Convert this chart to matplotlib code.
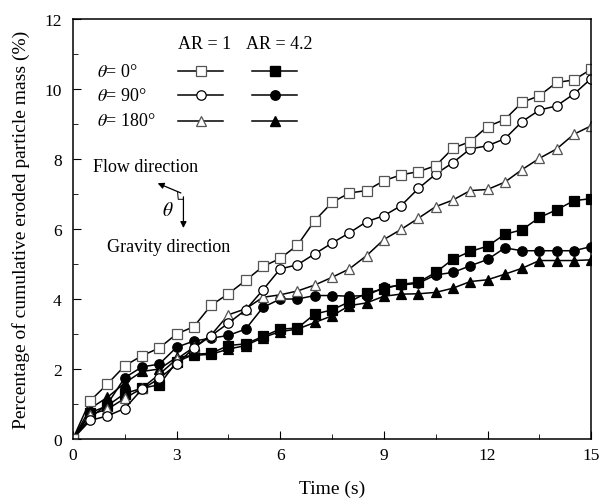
import matplotlib
matplotlib.use("Agg")
import matplotlib.pyplot as plt
from matplotlib.ticker import MultipleLocator
import numpy as np

plt.rcParams['font.family'] = ['Liberation Serif', 'DejaVu Serif']
plt.rcParams['mathtext.fontset'] = 'stix'

# time (s), one value every 0.5 s
t = np.arange(0, 15.01, 0.5)

# AR = 1
sq_ar1 = [0, 1.09, 1.57, 2.09, 2.38, 2.6, 3.0, 3.21, 3.82, 4.15, 4.53, 4.93, 5.16, 5.54, 6.24, 6.76,
          7.03, 7.1, 7.38, 7.55, 7.64, 7.81, 8.31, 8.5, 8.93, 9.13, 9.62, 9.81, 10.19, 10.26, 10.57]
ci_ar1 = [0, 0.53, 0.66, 0.87, 1.42, 1.73, 2.13, 2.6, 2.95, 3.31, 3.69, 4.26, 4.86, 4.98, 5.29, 5.6,
          5.89, 6.21, 6.38, 6.67, 7.16, 7.57, 7.9, 8.29, 8.38, 8.58, 9.07, 9.4, 9.52, 9.86, 10.3]
tr_ar1 = [0, 0.7, 0.85, 1.16, 1.45, 1.85, 2.28, 2.62, 2.97, 3.55, 3.72, 4.05, 4.12, 4.23, 4.4, 4.62,
          4.86, 5.24, 5.7, 5.99, 6.31, 6.64, 6.83, 7.1, 7.13, 7.34, 7.7, 8.02, 8.29, 8.71, 8.95]

# AR = 4.2
sq_ar42 = [0, 0.75, 0.95, 1.3, 1.45, 1.55, 2.2, 2.42, 2.45, 2.67, 2.72, 2.93, 3.14, 3.17, 3.57, 3.69,
           3.92, 4.17, 4.29, 4.42, 4.48, 4.76, 5.14, 5.36, 5.51, 5.85, 5.98, 6.33, 6.55, 6.81, 6.87]
ci_ar42 = [0, 0.6, 1.0, 1.75, 2.06, 2.14, 2.62, 2.8, 2.88, 2.96, 3.14, 3.76, 4.0, 4.0, 4.1, 4.1,
           4.08, 4.1, 4.33, 4.4, 4.45, 4.69, 4.76, 4.95, 5.13, 5.46, 5.38, 5.38, 5.38, 5.38, 5.5]
tr_ar42 = [0, 0.87, 1.19, 1.6, 1.93, 2.0, 2.33, 2.39, 2.42, 2.57, 2.67, 2.9, 3.07, 3.14, 3.33, 3.52,
           3.81, 3.89, 4.08, 4.14, 4.15, 4.19, 4.31, 4.5, 4.55, 4.71, 4.88, 5.1, 5.1, 5.1, 5.12]

fig = plt.figure(figsize=(6.07, 5.02), dpi=100)
ax = fig.add_axes([0.120, 0.1235, 0.854, 0.8365])

ms = 6.8
open_kw = dict(color='black', lw=1.1, mfc='white', ms=ms, mew=0.9)
fill_kw = dict(color='black', lw=1.1, mfc='black', ms=ms, mew=0.9)

ax.plot(t, tr_ar42, marker='^', **fill_kw)
ax.plot(t, ci_ar42, marker='o', **fill_kw)
ax.plot(t, sq_ar42, marker='s', **fill_kw)
ax.plot(t, tr_ar1, marker='^', mec='#555555', **open_kw)
ax.plot(t, ci_ar1, marker='o', **open_kw)
ax.plot(t, sq_ar1, marker='s', mec='#555555', **open_kw)

ax.set_xlim(0, 15)
ax.set_ylim(0, 12)
ax.xaxis.set_major_locator(MultipleLocator(3))
ax.xaxis.set_minor_locator(MultipleLocator(1.5))
ax.yaxis.set_major_locator(MultipleLocator(2))
ax.yaxis.set_minor_locator(MultipleLocator(1))
ax.tick_params(which='both', direction='in', top=False, right=False, labelsize=12.5)
ax.tick_params(which='major', length=6)
ax.tick_params(which='minor', length=3.5)
ax.tick_params(axis='x', pad=6)
ax.tick_params(axis='y', pad=8)
for s in ax.spines.values():
    s.set_linewidth(1.1)

ax.set_xlabel('Time (s)', fontsize=14, labelpad=12)
ax.set_ylabel('Percentage of cumulative eroded particle mass (%)', fontsize=14, labelpad=10)

# hand-made legend
fs = 13
ax.text(3.8, 11.29, 'AR = 1', ha='center', va='center', fontsize=fs)
ax.text(5.97, 11.29, 'AR = 4.2', ha='center', va='center', fontsize=fs)
rows = [(10.51, r'$\theta$= 0°', 's'), (9.83, r'$\theta$= 90°', 'o'), (9.09, r'$\theta$= 180°', '^')]
for y, lab, m in rows:
    ax.text(0.7, y, lab, ha='left', va='center', fontsize=fs)
    ax.plot([3.04, 4.35], [y, y], color='black', lw=1.1)
    ax.plot([3.7], [y], marker=m, ms=ms, mfc='white',
            mec='#555555' if m != 'o' else 'black', mew=0.9, color='black')
    ax.plot([5.19, 6.49], [y, y], color='black', lw=1.1)
    ax.plot([5.84], [y], marker=m, ms=ms, mfc='black', mec='black', color='black')

# flow / gravity direction sketch
ax.text(0.58, 7.8, 'Flow direction', ha='left', va='center', fontsize=fs)
ax.text(0.99, 5.51, 'Gravity direction', ha='left', va='center', fontsize=fs)
ax.annotate('', xy=(2.38, 7.34), xytext=(3.2, 7.0),
            arrowprops=dict(arrowstyle='-|>', color='black', lw=0.9, mutation_scale=9))
ax.annotate('', xy=(3.2, 5.95), xytext=(3.2, 7.0),
            arrowprops=dict(arrowstyle='-|>', color='black', lw=0.9, mutation_scale=9))
ax.plot([3.03, 3.05, 3.2], [7.07, 6.85, 6.85], color='black', lw=0.7)
ax.text(2.75, 6.55, r'$\theta$', ha='center', va='center', fontsize=fs + 1)

fig.savefig('out.png', dpi=100)
